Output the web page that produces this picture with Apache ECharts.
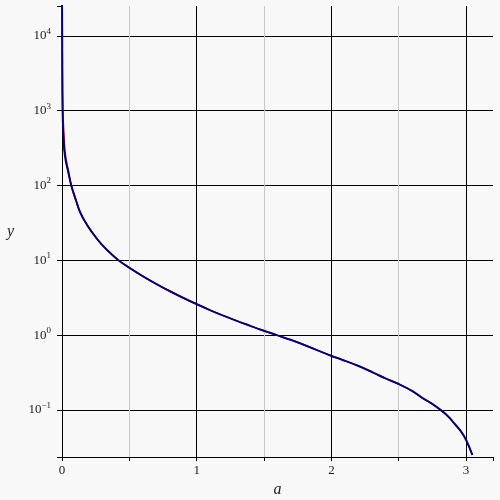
<!DOCTYPE html>
<html>
<head>
<meta charset="utf-8">
<script src="https://cdn.jsdelivr.net/npm/echarts@6/dist/echarts.min.js"></script>
<style>html,body{margin:0;padding:0;background:#f8f8f8}#c{width:500px;height:500px}</style>
</head>
<body>
<div id="c"></div>
<script>
// blue curve (a, y)
var blueA = [0.0008, 0.0012, 0.002, 0.004, 0.008, 0.016, 0.028, 0.043, 0.069, 0.103, 0.135, 0.19, 0.259, 0.33, 0.42, 0.494, 0.6, 0.7, 0.8, 0.9, 1.0, 1.1, 1.2, 1.3, 1.4, 1.474, 1.598, 1.7, 1.82, 1.995, 2.068, 2.2, 2.316, 2.4, 2.502, 2.6, 2.688, 2.75, 2.812, 2.87, 2.911, 2.96, 3.0, 3.047];
var blueY = [30000, 12000, 3000, 1000, 560, 300, 210, 160, 100, 64, 44, 29, 19.5, 14, 10, 8.1, 6.15, 4.85, 3.89, 3.16, 2.6, 2.16, 1.82, 1.55, 1.33, 1.19, 1.0, 0.865, 0.716, 0.535, 0.479, 0.389, 0.313, 0.266, 0.222, 0.180, 0.141, 0.1208, 0.1, 0.0813, 0.0668, 0.0525, 0.0401, 0.0251];
// red curve (mostly hidden under the blue one)
var redA = [0.0008, 0.0016, 0.003, 0.006, 0.011, 0.02, 0.032, 0.046, 0.069, 0.103, 0.135, 0.19, 0.259, 0.33, 0.42, 0.494, 0.6, 0.7, 0.8, 0.9, 1.0, 1.1, 1.2, 1.3, 1.4, 1.474, 1.598, 1.7, 1.82, 1.995, 2.068, 2.2, 2.316, 2.4, 2.502, 2.6, 2.688, 2.75, 2.812, 2.87, 2.911, 2.96, 3.0, 3.047];
var redY = blueY.slice();
var xTickLabels = ['0', '1', '2', '3'];
var yExponents = ['\u22121', '0', '1', '2', '3', '4'];

function pairs(a, y) { return a.map(function (v, i) { return [v, y[i]]; }); }

var serif = 'Liberation Serif';
var chart = echarts.init(document.getElementById('c'), null, {renderer: 'canvas'});
chart.setOption({
  backgroundColor: '#f8f8f8',
  animation: false,
  grid: {left: 62, right: 7, top: 6, bottom: 43, containLabel: false, outerBoundsMode: 'none'},
  xAxis: {
    type: 'value', min: 0, max: 3.2, interval: 0.5,
    name: 'a', nameLocation: 'middle', nameGap: 24,
    nameTextStyle: {fontFamily: serif, fontStyle: 'italic', fontSize: 16, color: '#222'},
    axisLine: {lineStyle: {color: '#000', width: 1}},
    axisTick: {show: true, length: 4, lineStyle: {color: '#000'}},
    axisLabel: {
      fontFamily: serif, fontSize: 13, color: '#222', margin: 7,
      formatter: function (v) {
        var r = Math.round(v);
        return Math.abs(v - r) < 1e-9 ? xTickLabels[r] : '';
      }
    },
    splitLine: {show: true, showMaxLine: false, lineStyle: {color: ['#000', '#c8c8c8'], width: 1}}
  },
  yAxis: {
    type: 'log', logBase: 10, min: 0.0236, max: 25100,
    name: 'y', nameLocation: 'middle', nameGap: 48, nameRotate: 0,
    nameTextStyle: {fontFamily: serif, fontStyle: 'italic', fontSize: 16, color: '#222'},
    axisLine: {show: true, lineStyle: {color: '#000', width: 1}},
    axisTick: {show: true, length: 5, lineStyle: {color: '#000'}},
    axisLabel: {
      margin: 11, color: '#222',
      formatter: function (v) {
        var l = Math.log(v) / Math.LN10;
        var r = Math.round(l);
        if (Math.abs(l - r) > 1e-6) return '';
        return '{b|10}{s|' + yExponents[r + 1] + '}';
      },
      rich: {
        b: {fontFamily: serif, fontSize: 13, color: '#222', lineHeight: 18},
        s: {fontFamily: serif, fontSize: 9, color: '#222', lineHeight: 10, verticalAlign: 'top'}
      }
    },
    splitLine: {show: true, showMaxLine: false, lineStyle: {color: '#000', width: 1}}
  },
  series: [
    {type: 'line', data: pairs(redA, redY), showSymbol: false, smooth: 0.4, lineStyle: {color: '#800000', width: 1.8}, z: 2},
    {type: 'line', data: pairs(blueA, blueY), showSymbol: false, smooth: 0.4, lineStyle: {color: '#000080', width: 1.8}, z: 3}
  ]
});
</script>
</body>
</html>
